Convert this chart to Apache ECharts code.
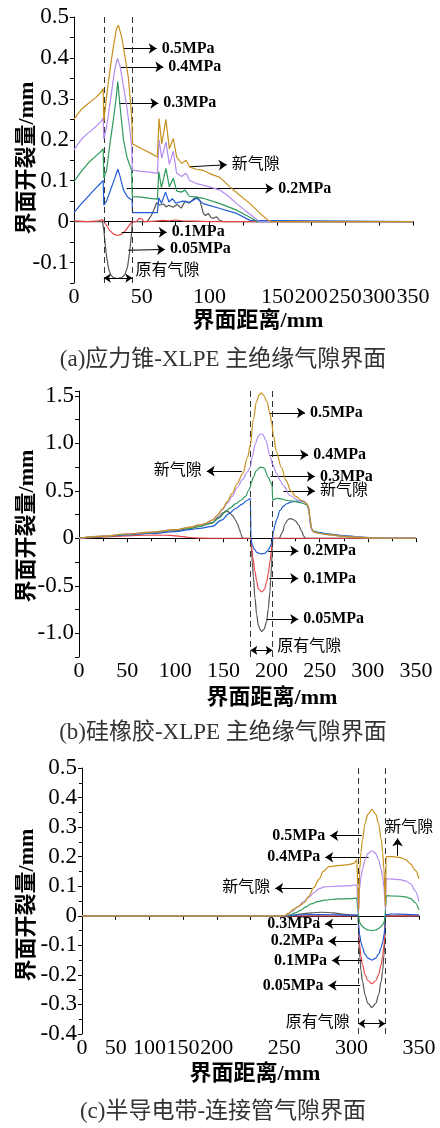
<!DOCTYPE html>
<html>
<head>
<meta charset="utf-8">
<script src="https://cdn.jsdelivr.net/npm/echarts@6/dist/echarts.min.js"></script>
<style>
html,body{margin:0;padding:0;background:#fff}
#chart{width:440px;height:1128px}
</style>
</head>
<body>
<div id="chart"></div>
<script>
// Interface opening (mm) along the interface, for six gas pressures, in three interface types.
const pressures = ['0.05MPa', '0.1MPa', '0.2MPa', '0.3MPa', '0.4MPa', '0.5MPa'];
const lineColors = ['#555555', '#E8474A', '#1F5BD6', '#2E9A5C', '#B48CF0', '#C8901E'];

// ---- (a) stress cone / XLPE main insulation: [distance mm, opening mm]
const a005 = [[0,0],[21,0],[22,-0.02],[23,-0.055],[24,-0.085],[25.5,-0.115],[27,-0.13],[29,-0.137],[32,-0.139],[35,-0.137],[37.5,-0.13],[39.5,-0.11],[41,-0.075],[42.3,-0.035],[43,0],[54,0],[57,0.015],[59,0.03],[61,0.046],[63,0.04],[66,0.043],[68,0.036],[70,0.04],[73,0.035],[76,0.042],[79,0.033],[82,0.05],[85,0.045],[88,0.055],[90.5,0.061],[93,0.05],[95.4,0.02],[97,0.015],[99,0.02],[101,0.01],[103,0.008],[105,0.012],[107,0.004],[110,0],[350,0]];
const a01 = [[0,0.002],[10,0],[18,0.002],[21,0.005],[23,-0.004],[26,-0.02],[29,-0.03],[32,-0.034],[35,-0.031],[38,-0.022],[41,-0.008],[43,0],[46,0],[48,0.008],[50,0.007],[51.5,0],[60,0.001],[65,0.003],[70,0.002],[75,0.004],[80,0.002],[90,0.001],[100,0],[350,0]];
const a02 = [[0,0.022],[5,0.042],[10,0.06],[15,0.078],[20,0.095],[21.5,0.101],[22,0.04],[24,0.05],[27,0.078],[30,0.105],[32.3,0.128],[34,0.11],[36.5,0.077],[39.5,0.06],[42.8,0.053],[43.2,0.022],[61.5,0.022],[62.5,0.058],[64.5,0.045],[67.5,0.072],[70,0.048],[72.5,0.056],[75,0.045],[80,0.05],[85,0.047],[90.5,0.057],[95.4,0.044],[107.6,0.032],[120,0.02],[129.8,0.003],[131,0],[350,0]];
const a03 = [[0,0.098],[3,0.112],[6,0.125],[11,0.145],[16,0.16],[20,0.172],[21.5,0.178],[22,0.106],[24,0.125],[26.5,0.19],[29,0.248],[31,0.3],[32.3,0.342],[34,0.28],[36.5,0.2],[39,0.158],[42.5,0.125],[43,0.061],[50,0.06],[56,0.057],[61.5,0.055],[62.5,0.122],[64.5,0.083],[67.8,0.13],[70.3,0.085],[73.2,0.106],[75.7,0.075],[79,0.072],[81.9,0.077],[85,0.062],[90,0.06],[95.4,0.057],[107.6,0.044],[120,0.028],[131,0.008],[135,0],[350,0]];
const a04 = [[0,0.175],[3,0.19],[6,0.203],[11,0.218],[16,0.232],[20,0.245],[21.5,0.253],[22,0.202],[24,0.23],[27,0.3],[30,0.37],[32,0.399],[34,0.38],[36,0.34],[38.5,0.29],[41,0.23],[42.5,0.185],[43,0.126],[50,0.123],[56,0.121],[61.5,0.118],[62.7,0.2],[64.7,0.155],[67.8,0.195],[70.3,0.14],[73.2,0.172],[75.7,0.118],[79.4,0.11],[82.6,0.118],[85.5,0.1],[90.5,0.093],[100,0.085],[107.6,0.077],[114,0.062],[120,0.044],[126,0.028],[132.2,0.012],[136.7,0],[350,0]];
const a05 = [[0,0.25],[3,0.264],[6,0.276],[11,0.29],[16,0.303],[20,0.316],[21.5,0.325],[22,0.246],[24,0.305],[26.5,0.37],[29,0.427],[31.4,0.472],[32.7,0.48],[35.1,0.452],[37.6,0.403],[40,0.354],[42,0.28],[42.8,0.235],[43.2,0.19],[50,0.178],[56,0.168],[61.5,0.158],[62.7,0.252],[64.7,0.19],[67.8,0.25],[70.3,0.178],[73.2,0.203],[75.7,0.158],[79.4,0.142],[82.6,0.15],[85.5,0.133],[90,0.128],[95.4,0.125],[101,0.116],[107.6,0.108],[115,0.085],[122,0.065],[129.8,0.044],[137.2,0.02],[143.3,0.003],[146,0],[350,0]];

// ---- (b) silicone rubber / XLPE main insulation
const b005 = [[0,0],[25,0.02],[50,0.04],[75,0.06],[100,0.082],[115,0.1],[125,0.125],[138.5,0.165],[145,0.225],[150,0.27],[153,0.29],[156,0.275],[159.2,0.24],[162,0.2],[164.4,0.155],[166.5,0.1],[168,0.05],[169.6,0.007],[171,0],[178,0],[179,-0.1],[180,-0.25],[181,-0.4],[182.8,-0.633],[184.5,-0.8],[186.2,-0.912],[188,-0.96],[189.7,-0.983],[192,-0.96],[194.9,-0.878],[196.6,-0.74],[198.3,-0.563],[199.2,-0.42],[200,-0.28],[200.8,-0.1],[201.3,0],[208,0],[211,0.06],[214,0.15],[217,0.195],[219,0.207],[222,0.2],[225,0.18],[228,0.14],[231,0.08],[233.5,0.02],[235,0],[350,0]];
const b01 = [[0,0],[20,0.01],[40,0.02],[60,0.03],[80,0.033],[95,0.03],[105,0.02],[115,0.008],[125,0.002],[135,0],[178,0],[179,-0.06],[180.5,-0.2],[182.8,-0.35],[184.5,-0.45],[186.2,-0.53],[189.7,-0.565],[192.5,-0.54],[194.9,-0.46],[196.6,-0.37],[198.3,-0.25],[199.5,-0.15],[200.5,-0.05],[201.2,0],[350,0]];
const b02 = [[0,0],[25,0.018],[50,0.035],[75,0.05],[100,0.07],[115,0.09],[125,0.105],[138.5,0.125],[148,0.19],[155.8,0.26],[163,0.315],[169.6,0.36],[174,0.395],[178,0.418],[178.6,0],[180,-0.07],[182,-0.115],[185,-0.152],[189,-0.165],[193,-0.158],[196,-0.13],[198.5,-0.09],[200.5,-0.04],[201.8,0.066],[203.5,0.14],[205.3,0.2],[208.8,0.293],[212,0.335],[215.7,0.363],[220,0.38],[224.4,0.388],[229,0.395],[233,0.39],[236.5,0.365],[238.5,0.3],[240.5,0.14],[242.7,0.075],[250,0.06],[260,0.045],[275,0.028],[290,0.015],[305,0.005],[320,0],[350,0]];
const b03 = [[0,0],[25,0.02],[50,0.04],[75,0.06],[100,0.085],[115,0.105],[125,0.125],[138.5,0.16],[145,0.21],[152,0.276],[157,0.32],[163,0.364],[168,0.4],[173,0.44],[176,0.5],[178,0.54],[178.8,0.58],[181,0.64],[184,0.71],[188.6,0.748],[192,0.74],[196.6,0.643],[199,0.59],[200.5,0.556],[201.2,0.4],[203,0.41],[206,0.42],[210,0.415],[215,0.4],[222,0.39],[230,0.375],[236,0.355],[238.5,0.32],[240,0.2],[241.5,0.1],[244,0.07],[250,0.055],[260,0.04],[275,0.02],[290,0.01],[305,0.003],[320,0],[350,0]];
const b04 = [[0,0],[25,0.022],[50,0.045],[75,0.065],[100,0.09],[115,0.115],[125,0.14],[131,0.155],[138.5,0.19],[144,0.24],[149,0.3],[154,0.37],[159,0.44],[164,0.53],[170,0.62],[175,0.7],[178,0.75],[180,0.86],[183,0.99],[186,1.07],[188.6,1.1],[191,1.09],[194,1.03],[198.3,0.87],[201,0.78],[205.3,0.68],[208.8,0.61],[212.2,0.556],[219,0.45],[227.7,0.4],[233,0.385],[237,0.36],[238.8,0.3],[240.3,0.16],[242,0.08],[245,0.06],[250,0.05],[260,0.035],[275,0.02],[290,0.01],[305,0.003],[320,0],[350,0]];
const b05 = [[0,0],[25,0.022],[50,0.045],[75,0.065],[100,0.09],[115,0.115],[125,0.14],[131,0.155],[138.5,0.19],[144,0.245],[149,0.31],[154,0.385],[159,0.47],[164,0.57],[170,0.68],[175,0.85],[178,0.98],[181,1.25],[184.5,1.44],[187,1.51],[189.5,1.53],[192,1.5],[195,1.44],[198.3,1.32],[200,1.22],[202,1.08],[205,0.91],[210,0.75],[215,0.61],[220,0.5],[225,0.44],[231,0.4],[236,0.37],[238.5,0.33],[240,0.2],[241.5,0.1],[244,0.065],[250,0.05],[260,0.035],[275,0.02],[290,0.01],[305,0.003],[320,0],[350,0]];

// ---- (c) semiconductive tape / connector tube
const c005 = [[0,0],[255,0],[262,0.006],[270,0.01],[278,0.012],[286,0.01],[295,0.005],[303,0.002],[305,0],[305.3,-0.08],[306,-0.135],[307,-0.186],[308,-0.221],[310,-0.268],[312,-0.296],[315,-0.31],[318,-0.296],[320,-0.268],[322,-0.221],[323,-0.186],[324,-0.135],[324.7,-0.08],[325,0],[350,0]];
const c01 = [[0,0],[305,0],[305.3,-0.06],[306,-0.1],[307,-0.138],[308,-0.164],[310,-0.199],[312,-0.219],[315,-0.23],[318,-0.219],[320,-0.199],[322,-0.164],[323,-0.138],[324,-0.1],[324.7,-0.06],[325,0],[350,0]];
const c02 = [[0,0],[250,0],[260,0.003],[270,0.004],[280,0.004],[290,0.003],[300,0.002],[304.8,0.002],[305.3,-0.04],[306,-0.065],[307,-0.09],[308,-0.107],[310,-0.13],[312,-0.143],[315,-0.15],[318,-0.143],[320,-0.13],[322,-0.107],[323,-0.09],[324,-0.065],[324.7,-0.04],[325.2,0.004],[330,0.006],[340,0.005],[350,0.003]];
const c03 = [[0,0],[250,0],[254,0.002],[258,0.01],[262,0.018],[266,0.03],[270,0.04],[275,0.048],[280,0.053],[290,0.057],[300,0.058],[303.8,0.06],[304.6,0.02],[305.2,0],[306,-0.022],[307,-0.03],[308,-0.036],[310,-0.043],[312,-0.048],[315,-0.05],[318,-0.048],[320,-0.043],[322,-0.036],[323,-0.03],[324,-0.022],[324.8,0],[325.3,0.03],[325.8,0.068],[330,0.067],[336,0.066],[340,0.064],[344,0.058],[347,0.045],[350,0.02]];
const c04 = [[0,0],[250,0],[253,0.005],[256,0.015],[260,0.03],[264,0.046],[268,0.062],[272,0.078],[276,0.092],[280,0.098],[290,0.1],[300,0.102],[303.8,0.105],[304.6,0.05],[305.2,0.01],[306,0.096],[307,0.132],[308,0.157],[310,0.19],[312,0.21],[315,0.22],[318,0.21],[320,0.19],[322,0.157],[323,0.132],[324,0.096],[324.7,0.05],[325.1,0.02],[325.6,0.125],[330,0.124],[336,0.122],[340,0.118],[344,0.108],[347,0.085],[350,0.048]];
const c05 = [[0,0],[250,0],[253,0.008],[257,0.022],[261,0.033],[265,0.045],[268,0.065],[272,0.095],[276,0.125],[279,0.15],[283,0.166],[290,0.17],[298,0.173],[302,0.178],[303.8,0.19],[304.6,0.1],[305.2,0.02],[306,0.157],[307,0.215],[308,0.257],[310,0.312],[312,0.343],[315,0.36],[318,0.343],[320,0.312],[322,0.257],[323,0.215],[324,0.157],[324.7,0.08],[325.1,0.03],[325.6,0.2],[330,0.2],[336,0.197],[340,0.19],[344,0.175],[347,0.155],[350,0.125]];

// ---- annotations: [x1, y1, x2, y2, text] arrows drawn from the curve towards the label
const annA = [[36.4,0.423,61,0.423,'0.5MPa'],[34,0.378,65.9,0.378,'0.4MPa'],[33.2,0.289,62.2,0.289,'0.3MPa'],[85.5,0.134,112.6,0.139,'新气隙'],[38.9,0.081,147,0.081,'0.2MPa'],[35.2,-0.027,68.4,-0.026,'0.1MPa'],[40,-0.07,67.1,-0.068,'0.05MPa']];
const annB = [[197.6,1.32,234.7,1.32,'0.5MPa'],[197.6,0.878,238,0.878,'0.4MPa'],[199,0.65,245,0.65,'0.3MPa'],[212.2,0.497,245,0.497,'新气隙'],[169,0.706,132.6,0.706,'新气隙'],[196.6,-0.133,227.7,-0.133,'0.2MPa'],[197.6,-0.423,227.7,-0.423,'0.1MPa'],[194.9,-0.853,227.7,-0.853,'0.05MPa']];
const annC = [[307.6,0.271,284.1,0.271,'0.5MPa'],[312.6,0.198,280.4,0.198,'0.4MPa'],[270.5,0.093,243.3,0.093,'新气隙'],[303.9,-0.027,280.4,-0.027,'0.3MPa'],[306.4,-0.086,282.9,-0.086,'0.2MPa'],[307.6,-0.151,285.4,-0.151,'0.1MPa'],[306.4,-0.236,282.9,-0.236,'0.05MPa'],[334.1,0.203,334.1,0.262,'']];
// original gap edges [left, right] and the height of its span arrow
const gapA = [22, 43, -0.138];
const gapB = [178, 201, -1.18];
const gapC = [305, 325, -0.365];
// free text: [text, x, y, side]
const textA = [['原有气隙', 45, -0.12, 'right']];
const textB = [['原有气隙', 205.3, -1.14, 'right']];
const textC = [['原有气隙', 299, -0.361, 'left'], ['新气隙', 342.8, 0.296, 'inside']];
const captions = ['(a)应力锥-XLPE 主绝缘气隙界面', '(b)硅橡胶-XLPE 主绝缘气隙界面', '(c)半导电带-连接管气隙界面'];

// piecewise distance axes: (a) compresses 150–350 mm to half scale, (c) compresses 0–200 mm to half scale
const fwdA = x => x <= 150 ? x : 150 + (x - 150) / 2;
const invA = t => t <= 150 ? t : 150 + (t - 150) * 2;
const fwdB = x => x;
const invB = t => t;
const fwdC = x => x <= 200 ? x / 2 : 100 + (x - 200);
const invC = t => t <= 100 ? t * 2 : 200 + (t - 100);

const SERIF = '"Liberation Serif", "Times New Roman", serif';
const MIXED = '"Liberation Serif", "Noto Sans CJK SC", sans-serif';

const panels = [
  { lines: [a005, a01, a02, a03, a04, a05], fwd: fwdA, inv: invA, ann: annA, gap: gapA, texts: textA, smooth: false,
    grid: { left: 74, top: 17, width: 339, height: 266 },
    x: { min: 0, max: 250, interval: 25 }, y: { min: -0.15, max: 0.5, interval: 0.05, labelStep: 0.1 },
    yGap: 36, yShift: 16, xGap: 27, xShift: 29, caption: 360 },
  { lines: [b005, b01, b02, b03, b04, b05], fwd: fwdB, inv: invB, ann: annB, gap: gapB, texts: textB, smooth: 0.35,
    grid: { left: 79, top: 391, width: 337, height: 266 },
    x: { min: 0, max: 350, interval: 50, minor: true }, y: { min: -1.25, max: 1.55, interval: 0.25, labelStep: 0.5 },
    yGap: 41, yShift: 4, xGap: 30, xShift: 49, caption: 733 },
  { lines: [c005, c01, c02, c03, c04, c05], fwd: fwdC, inv: invC, ann: annC, gap: gapC, texts: textC, smooth: 0.35,
    grid: { left: 82, top: 768, width: 337, height: 266 },
    x: { min: 0, max: 250, interval: 25 }, y: { min: -0.4, max: 0.5, interval: 0.1, labelStep: 0.1, minor: true },
    yGap: 44, yShift: 8, xGap: 29, xShift: 9, caption: 1112 }
];

const axisLine = { show: true, lineStyle: { color: '#000', width: 1 } };
const axisTick = { show: true, length: 4, lineStyle: { color: '#000', width: 1 } };
const xTickFont = { fontFamily: SERIF, fontSize: 22, color: '#000' };
const yTickFont = { fontFamily: SERIF, fontSize: 23, color: '#000' };
const nameFont = { fontFamily: MIXED, fontSize: 22, fontWeight: 'bold', color: '#000' };

const grids = [], xAxes = [], yAxes = [], series = [], graphics = [];

panels.forEach((p, k) => {
  grids.push(p.grid);
  xAxes.push({
    type: 'value', gridIndex: k, min: p.x.min, max: p.x.max, interval: p.x.interval,
    axisLine, axisTick, splitLine: { show: false },
    minorTick: { show: !!p.x.minor, splitNumber: 2, length: 3, lineStyle: { color: '#000' } },
    axisLabel: Object.assign({ margin: 3, showMinLabel: true, showMaxLabel: true, hideOverlap: false,
      formatter: v => { const d = Math.round(p.inv(v)); return d % 50 === 0 ? String(d) : ''; } }, xTickFont),
    name: '界面距离/mm', nameLocation: 'middle', nameGap: p.xGap, nameMoveOverlap: false,
    nameTextStyle: Object.assign({ padding: [0, 0, 0, p.xShift] }, nameFont)
  });
  yAxes.push({
    type: 'value', gridIndex: k, min: p.y.min, max: p.y.max, interval: p.y.interval,
    axisLine, axisTick, splitLine: { show: false },
    minorTick: { show: !!p.y.minor, splitNumber: 2, length: 3, lineStyle: { color: '#000' } },
    axisLabel: Object.assign({ margin: 5, showMinLabel: true, showMaxLabel: true, hideOverlap: false,
      formatter: v => {
        const n = Math.round(v / p.y.labelStep);
        if (Math.abs(v - n * p.y.labelStep) > 1e-6) return '';
        if (n === 0) return '0';
        const s = n * p.y.labelStep;
        return p.y.labelStep >= 0.5 ? s.toFixed(1) : String(Math.round(s * 10) / 10);
      } }, yTickFont),
    name: '界面开裂量/mm', nameLocation: 'middle', nameGap: p.yGap, nameRotate: 90, nameMoveOverlap: false,
    nameTextStyle: Object.assign({ padding: [0, p.yShift, 0, 0] }, nameFont)
  });

  p.lines.forEach((arr, i) => {
    series.push({
      type: 'line', name: pressures[i], xAxisIndex: k, yAxisIndex: k,
      data: arr.map(([x, y]) => [p.fwd(x), y]),
      showSymbol: false, symbol: 'none', smooth: p.smooth, smoothMonotone: 'x',
      lineStyle: { width: 1.2, color: lineColors[i] }, itemStyle: { color: lineColors[i] },
      silent: true, z: 2 + i
    });
  });

  // pointer arrows with their labels
  series.push({
    type: 'line', xAxisIndex: k, yAxisIndex: k, data: [], silent: true, z: 10,
    markLine: {
      silent: true, animation: false, symbol: ['none', 'arrow'], symbolSize: 8,
      lineStyle: { color: '#000', width: 1, type: 'solid' },
      label: { show: true, position: 'end', distance: 5, formatter: '{b}',
        fontFamily: SERIF, fontSize: 16, fontWeight: 'bold', color: '#000' },
      emphasis: { disabled: true },
      data: p.ann.map(a => [
        { coord: [p.fwd(a[0]), a[1]], name: a[4],
          label: /MPa/.test(a[4]) ? {} : { fontFamily: MIXED, fontWeight: 'normal', fontSize: 16 } },
        { coord: [p.fwd(a[2]), a[3]] }
      ])
    }
  });

  // dashed edges of the original gap
  series.push({
    type: 'line', xAxisIndex: k, yAxisIndex: k, data: [], silent: true, z: 9,
    markLine: {
      silent: true, animation: false, symbol: ['none', 'none'],
      lineStyle: { color: '#333', width: 1, type: [6, 4] },
      label: { show: false }, emphasis: { disabled: true },
      data: [{ xAxis: p.fwd(p.gap[0]) }, { xAxis: p.fwd(p.gap[1]) }]
    }
  });

  // span arrow of the original gap and free text
  series.push({
    type: 'line', xAxisIndex: k, yAxisIndex: k, data: [], silent: true, z: 10,
    markLine: {
      silent: true, animation: false, symbol: ['arrow', 'arrow'], symbolSize: 7,
      lineStyle: { color: '#000', width: 1, type: 'solid' },
      label: { show: false }, emphasis: { disabled: true },
      data: [[{ coord: [p.fwd(p.gap[0]), p.gap[2]] }, { coord: [p.fwd(p.gap[1]), p.gap[2]] }]]
    },
    markPoint: {
      silent: true, animation: false, symbol: 'circle', symbolSize: 1,
      itemStyle: { color: 'rgba(0,0,0,0)' },
      label: { show: true, formatter: '{b}', fontFamily: MIXED, fontSize: 16, color: '#000', distance: 0 },
      data: p.texts.map(t => ({ name: t[0], coord: [p.fwd(t[1]), t[2]], label: { position: t[3] } }))
    }
  });

  graphics.push({
    type: 'text', x: 223, y: p.caption, silent: true,
    style: { text: captions[k], font: '23px "Liberation Serif", "Noto Sans CJK SC", sans-serif',
      fill: '#333', textAlign: 'center', textVerticalAlign: 'middle', align: 'center', verticalAlign: 'middle' }
  });
});

const chart = echarts.init(document.getElementById('chart'), null, { renderer: 'canvas' });
chart.setOption({
  animation: false,
  backgroundColor: '#fff',
  grid: grids, xAxis: xAxes, yAxis: yAxes, series, graphic: graphics,
  tooltip: { show: false }, legend: { show: false }
});
</script>
</body>
</html>
